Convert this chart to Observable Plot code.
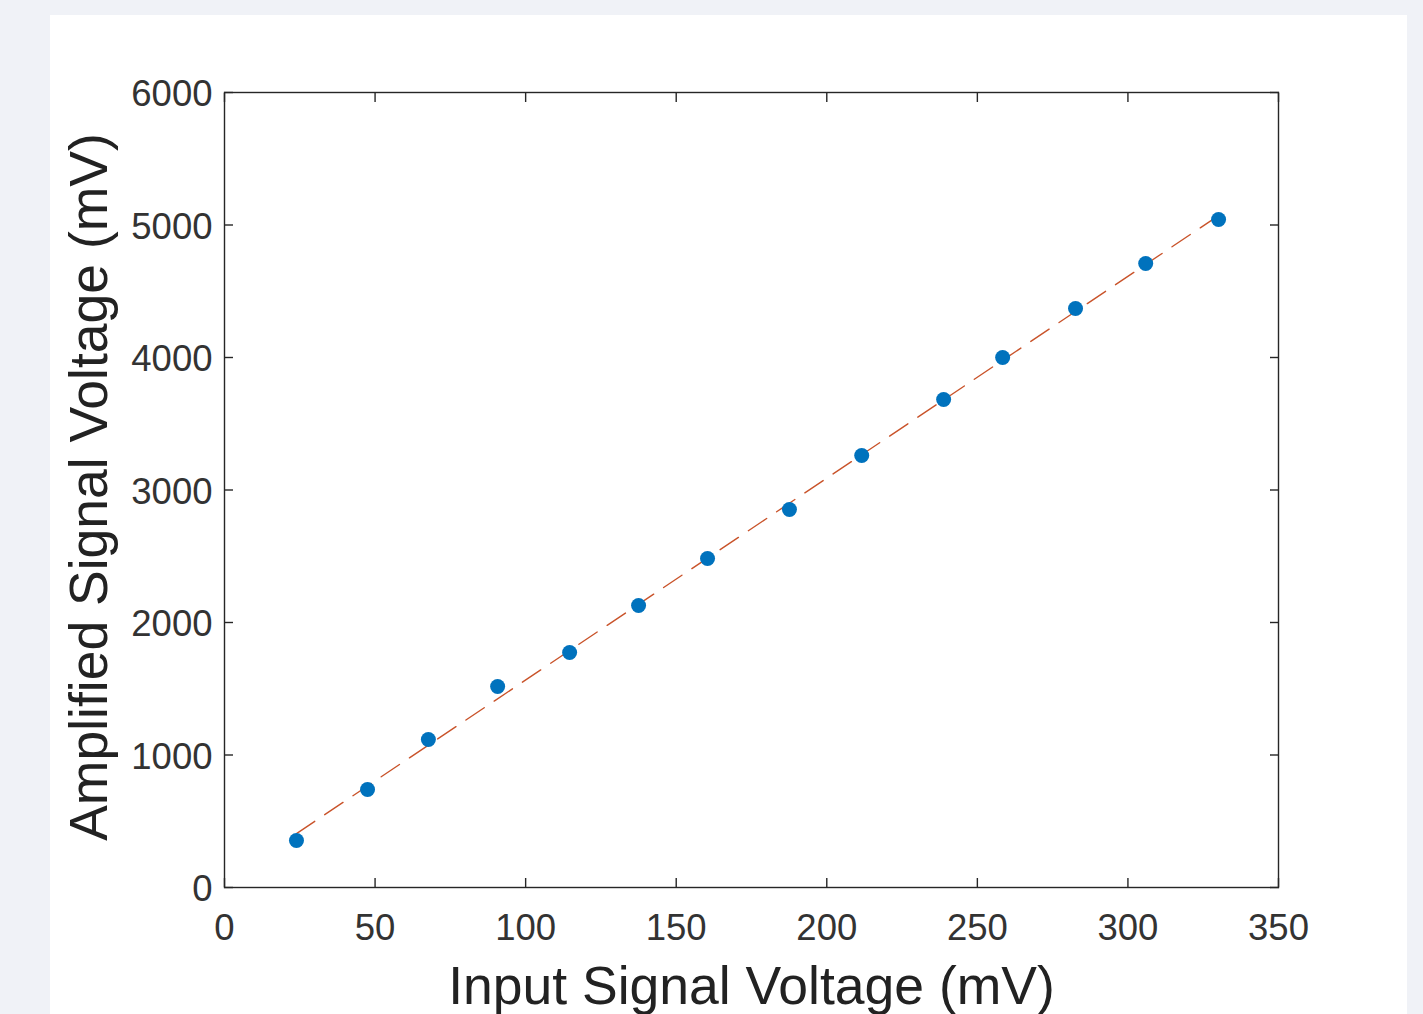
<!DOCTYPE html>
<html>
<head>
<meta charset="utf-8">
<script src="https://cdn.jsdelivr.net/npm/d3@7"></script>
<script src="https://cdn.jsdelivr.net/npm/@observablehq/plot@0.6"></script>
<style>
  html, body { margin: 0; padding: 0; background: #f0f2f7; overflow: hidden; }
  #wrap { position: relative; width: 1423px; height: 1014px; }
  #panel { position: absolute; left: 50px; top: 15px; width: 1357px; height: 999px; background: #ffffff; }
  #chart { position: absolute; left: 0; top: 0; }
</style>
</head>
<body>
<div id="wrap"><div id="panel"></div><div id="chart"></div></div>
<script>
const inputMv = [23.9, 47.5, 67.7, 90.7, 114.6, 137.5, 160.4, 187.6, 211.6, 238.8, 258.4, 282.6, 305.9, 330.1];
const amplifiedMv = [355, 740, 1117, 1517, 1774, 2128, 2483, 2853, 3260, 3683, 4000, 4370, 4709, 5042];
const xTicks = [0, 50, 100, 150, 200, 250, 300, 350];
const yTicks = [0, 1000, 2000, 3000, 4000, 5000, 6000];
const xLabel = "Input Signal Voltage (mV)";
const yLabel = "Amplified Signal Voltage (mV)";

const data = inputMv.map((x, i) => ({x, y: amplifiedMv[i]}));
const axisColor = "#262626";
const textColor = "#333333";

const chart = Plot.plot({
  width: 1423,
  height: 1014,
  marginLeft: 224,
  marginRight: 145,
  marginTop: 92,
  marginBottom: 127,
  style: {background: "transparent", fontFamily: "'Liberation Sans', Arial, Helvetica, sans-serif", fontSize: "36.5px", color: textColor},
  x: {domain: [0, 350]},
  y: {domain: [0, 6000]},
  marks: [
    Plot.linearRegressionY(data, {x: "x", y: "y", ci: 0, stroke: "#c9532a", strokeWidth: 1.4, strokeDasharray: "22,12"}),
    Plot.dot(data, {x: "x", y: "y", r: 7.5, fill: "#0072BD", stroke: "none"}),
    Plot.frame({stroke: axisColor, strokeWidth: 1.4}),
    Plot.axisX(xTicks, {anchor: "bottom", tickSize: 9, dy: -9, fill: "none", stroke: axisColor, strokeWidth: 1.4, label: null}),
    Plot.axisX(xTicks, {anchor: "top", tickSize: 9, dy: 9, fill: "none", stroke: axisColor, strokeWidth: 1.4, label: null}),
    Plot.axisY(yTicks, {anchor: "left", tickSize: 9, dx: 9, fill: "none", stroke: axisColor, strokeWidth: 1.4, label: null}),
    Plot.axisY(yTicks, {anchor: "right", tickSize: 9, dx: -9, fill: "none", stroke: axisColor, strokeWidth: 1.4, label: null}),
    Plot.axisX(xTicks, {anchor: "bottom", tickSize: 0, tickPadding: 27, label: null, fill: textColor, tickFormat: d => String(d)}),
    Plot.axisY(yTicks, {anchor: "left", tickSize: 0, tickPadding: 12, dy: 2, label: null, fill: textColor, tickFormat: d => String(d)}),
    Plot.text([xLabel], {text: d => d, frameAnchor: "bottom", textAnchor: "middle", lineAnchor: "top", dy: 78, fontSize: 53.5, fill: "#222"}),
    Plot.text([yLabel], {text: d => d, frameAnchor: "left", textAnchor: "middle", lineAnchor: "top", rotate: -90, dx: -156, dy: -3, fontSize: 53.5, fill: "#222"})
  ]
});
document.getElementById("chart").appendChild(chart);
</script>
</body>
</html>
